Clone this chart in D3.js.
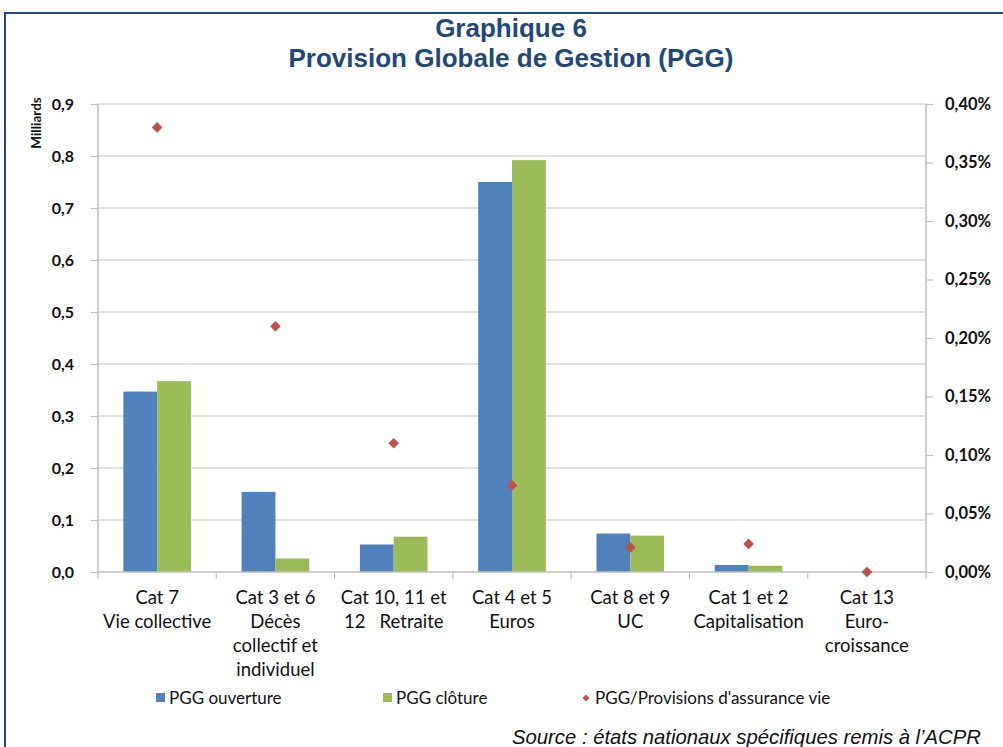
<!DOCTYPE html>
<html>
<head>
<meta charset="utf-8">
<script src="https://cdn.jsdelivr.net/npm/d3@7/dist/d3.min.js"></script>
<style>
  html, body { margin: 0; padding: 0; background: #fff; overflow: hidden; }
  svg { display: block; }
</style>
</head>
<body>
<svg id="chart" width="1003" height="747"></svg>
<script>
// Categories (each label split into its displayed lines)
const categories = ["Cat 7", "Cat 3 et 6", "Cat 10, 11 et 12", "Cat 4 et 5", "Cat 8 et 9", "Cat 1 et 2", "Cat 13"];
const categoryLines = [
  ["Cat 7", "Vie collective"],
  ["Cat 3 et 6", "Décès", "collectif et", "individuel"],
  ["Cat 10, 11 et", "12   Retraite"],
  ["Cat 4 et 5", "Euros"],
  ["Cat 8 et 9", "UC"],
  ["Cat 1 et 2", "Capitalisation"],
  ["Cat 13", "Euro-", "croissance"]
];
// PGG in billions (left axis)
const pggOuverture = [0.347, 0.154, 0.053, 0.750, 0.074, 0.0135, 0];
const pggCloture   = [0.367, 0.026, 0.068, 0.792, 0.070, 0.012, 0];
// PGG / life insurance provisions, in percent (right axis)
const pggRatio     = [0.380, 0.210, 0.110, 0.074, 0.021, 0.024, 0.000];
// Tick values
const leftTicks  = [0, 0.1, 0.2, 0.3, 0.4, 0.5, 0.6, 0.7, 0.8, 0.9];
const rightTicks = [0, 0.05, 0.10, 0.15, 0.20, 0.25, 0.30, 0.35, 0.40];
const seriesNames = ["PGG ouverture", "PGG clôture", "PGG/Provisions d'assurance vie"];

const colors = { blue: "#4f81bd", green: "#9bbb59", red: "#c0504d", frame: "#1f497d", grid: "#d9d9d9", axis: "#bfbfbf" };
const labelFont = "Lato, 'Open Sans', sans-serif";

const svg = d3.select("#chart");
const plot = { left: 98, right: 926, top: 104, bottom: 572 };

// Outer frame (runs past the right and bottom edges)
svg.append("rect")
  .attr("x", 5).attr("y", 13).attr("width", 1100).attr("height", 900)
  .attr("fill", "none").attr("stroke", colors.frame).attr("stroke-width", 2);

// Title
const title = svg.append("text").attr("text-anchor", "middle")
  .attr("font-family", "'Liberation Sans', Arial, sans-serif").attr("font-weight", "bold")
  .attr("font-size", 26).attr("fill", colors.frame);
title.append("tspan").attr("x", 511).attr("y", 37).text("Graphique 6");
title.append("tspan").attr("x", 511).attr("y", 67).text("Provision Globale de Gestion (PGG)");

// Scales
const x = d3.scaleBand().domain(categories).range([plot.left, plot.right]).paddingInner(0).paddingOuter(0);
const bw = x.bandwidth();
const barW = bw / 3.5;
const x1 = d3.scaleBand().domain(["o", "c"]).range([(bw - 2 * barW) / 2, (bw + 2 * barW) / 2]);
const yL = d3.scaleLinear().domain([0, 0.9]).range([plot.bottom, plot.top]);
const yR = d3.scaleLinear().domain([0, 0.4]).range([plot.bottom, plot.top]);

const fmtL = d3.format(".1f");
const fmtR = d3.format(".2f");
const comma = s => s.replace(".", ",");

// Gridlines
svg.append("g").selectAll("line").data(leftTicks.filter(d => d > 0)).join("line")
  .attr("x1", plot.left).attr("x2", plot.right)
  .attr("y1", d => yL(d)).attr("y2", d => yL(d))
  .attr("stroke", colors.grid).attr("stroke-width", 1.5);

// Left axis
const axL = svg.append("g").attr("transform", `translate(${plot.left},0)`)
  .call(d3.axisLeft(yL).tickValues(leftTicks).tickSize(7).tickPadding(17).tickFormat(d => comma(fmtL(d))));
axL.select(".domain").attr("stroke", colors.axis).attr("stroke-width", 1.5).attr("d", `M0,${plot.top}V${plot.bottom}`);
axL.selectAll(".tick line").attr("stroke", colors.axis).attr("stroke-width", 1.2);
axL.selectAll(".tick text").attr("font-family", labelFont).attr("font-weight", "bold")
  .attr("font-size", 16).attr("fill", "#111");

// Right axis
const axR = svg.append("g").attr("transform", `translate(${plot.right},0)`)
  .call(d3.axisRight(yR).tickValues(rightTicks).tickSize(7).tickPadding(11).tickFormat(d => comma(fmtR(d)) + "%"));
axR.select(".domain").attr("stroke", colors.axis).attr("stroke-width", 1.5).attr("d", `M0,${plot.top}V${plot.bottom}`);
axR.selectAll(".tick line").attr("stroke", colors.axis).attr("stroke-width", 1.2);
axR.selectAll(".tick text").attr("font-family", labelFont).attr("font-weight", "bold")
  .attr("font-size", 16.5).attr("fill", "#111").attr("x", 19);

// Unit label
svg.append("text").attr("transform", "translate(41,123) rotate(-90)")
  .attr("text-anchor", "middle").attr("font-family", labelFont).attr("font-weight", "bold")
  .attr("font-size", 13.5).attr("fill", "#111").text("Milliards");

// Bars
const rows = categories.map((c, i) => ({ cat: c, o: pggOuverture[i], c: pggCloture[i], r: pggRatio[i] }));
const groups = svg.append("g").selectAll("g").data(rows).join("g")
  .attr("transform", d => `translate(${x(d.cat)},0)`);
groups.append("rect")
  .attr("x", x1("o")).attr("width", x1.bandwidth())
  .attr("y", d => yL(d.o)).attr("height", d => yL(0) - yL(d.o))
  .attr("fill", colors.blue);
groups.append("rect")
  .attr("x", x1("c")).attr("width", x1.bandwidth())
  .attr("y", d => yL(d.c)).attr("height", d => yL(0) - yL(d.c))
  .attr("fill", colors.green);

// Bottom axis
const axB = svg.append("g").attr("transform", `translate(0,${plot.bottom})`);
axB.append("line").attr("x1", plot.left).attr("x2", plot.right).attr("y1", 0).attr("y2", 0)
  .attr("stroke", colors.axis).attr("stroke-width", 1.5);
const boundaries = categories.map(c => x(c)).concat([plot.right]);
axB.selectAll("line.tk").data(boundaries).join("line").attr("class", "tk")
  .attr("x1", d => d).attr("x2", d => d).attr("y1", 0).attr("y2", 7)
  .attr("stroke", colors.axis).attr("stroke-width", 1.2);

// Category labels
const catText = svg.append("g").selectAll("text").data(categories).join("text")
  .attr("text-anchor", "middle").attr("font-family", labelFont)
  .attr("font-size", 18.5).attr("fill", "#111").style("white-space", "pre");
catText.each(function (c, i) {
  const t = d3.select(this);
  categoryLines[i].forEach((line, k) => {
    t.append("tspan").attr("x", x(c) + bw / 2).attr("y", 604 + k * 24).text(line);
  });
});

// Ratio markers (diamonds)
const diamond = d3.symbol().type(d3.symbolDiamond2).size(72);
svg.append("g").selectAll("path").data(rows).join("path")
  .attr("d", diamond)
  .attr("transform", d => `translate(${x(d.cat) + bw / 2},${yR(d.r)})`)
  .attr("fill", colors.red);

// Legend
const legend = svg.append("g").attr("font-family", labelFont).attr("font-size", 17).attr("fill", "#111");
const legendItems = [
  { name: seriesNames[0], kind: "rect", color: colors.blue, x: 156 },
  { name: seriesNames[1], kind: "rect", color: colors.green, x: 383 },
  { name: seriesNames[2], kind: "diamond", color: colors.red, x: 582 }
];
legendItems.forEach(it => {
  if (it.kind === "rect") {
    legend.append("rect").attr("x", it.x).attr("y", 693).attr("width", 9).attr("height", 9).attr("fill", it.color);
  } else {
    legend.append("path").attr("d", d3.symbol().type(d3.symbolDiamond2).size(32))
      .attr("transform", `translate(${it.x + 4},698)`).attr("fill", it.color);
  }
  legend.append("text").attr("x", it.x + 13).attr("y", 704).text(it.name);
});

// Source note
svg.append("text").attr("x", 512).attr("y", 744)
  .attr("font-family", "'Liberation Sans', Arial, sans-serif").attr("font-style", "italic")
  .attr("font-size", 20.3).attr("fill", "#111")
  .text("Source : états nationaux spécifiques remis à l’ACPR");
</script>
</body>
</html>
